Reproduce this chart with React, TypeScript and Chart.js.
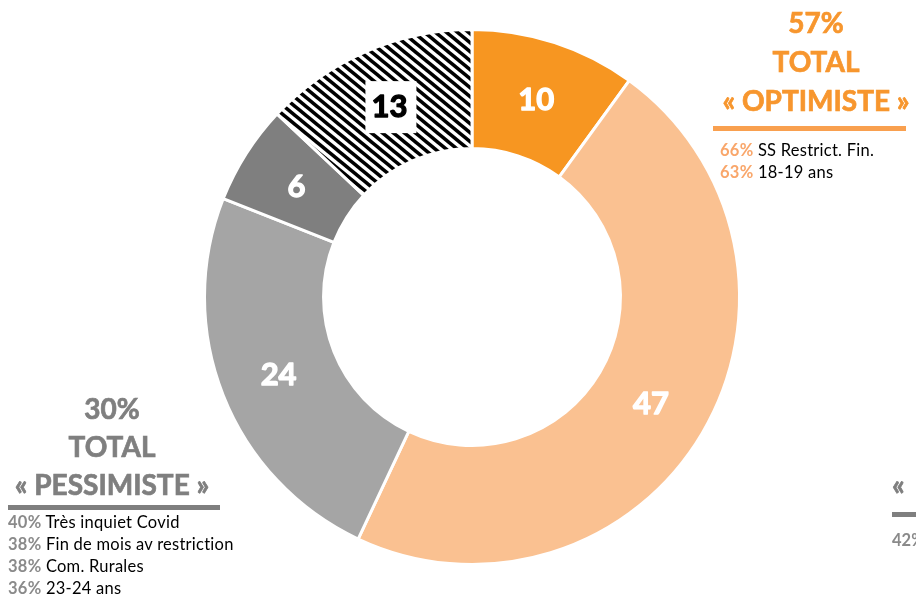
import React, { useEffect, useRef } from 'react';
import { Chart, registerables } from 'chart.js';

Chart.register(...registerables);

// ---- data ----
const categories = ['Très optimiste', 'Plutôt optimiste', 'Plutôt pessimiste', 'Très pessimiste', 'Ne sait pas'];
const values = [10, 47, 24, 6, 13];
const sliceColors = ['#F79621', '#FAC191', '#A5A5A5', '#7F7F7F', 'HATCH'];
const sliceLabelColors = ['#FFFFFF', '#FFFFFF', '#FFFFFF', '#FFFFFF', '#000000'];
const sliceLabelBoxed = [false, false, false, false, true];

const optimistTitle = ['57%', 'TOTAL', '« OPTIMISTE »'];
const optimistPcts = ['66%', '63%'];
const optimistTexts = ['SS Restrict. Fin.', '18-19 ans'];

const pessimistTitle = ['30%', 'TOTAL', '« PESSIMISTE »'];
const pessimistPcts = ['40%', '38%', '38%', '36%'];
const pessimistTexts = ['Très inquiet Covid', 'Fin de mois av restriction', 'Com. Rurales', '23-24 ans'];

const thirdTitle = ['«'];
const thirdPcts = ['42%'];

const FONT = 'Lato, "Open Sans", sans-serif';
const SMALL_FONT = 'Lato, "Open Sans", sans-serif';

function makeHatch(): CanvasPattern | string {
  const w = 11, h = 9;
  const c = document.createElement('canvas');
  c.width = w; c.height = h;
  const g = c.getContext('2d');
  if (!g) return '#000';
  g.fillStyle = '#FFFFFF';
  g.fillRect(0, 0, w, h);
  g.strokeStyle = '#000000';
  g.lineWidth = 3.6;
  for (let k = -2; k <= 2; k++) {
    g.beginPath();
    g.moveTo(k * w - w, -h);
    g.lineTo(k * w + 2 * w, 2 * h);
    g.stroke();
  }
  const p = g.createPattern(c, 'repeat');
  return p || '#000';
}

const labelPlugin = {
  id: 'sliceLabels',
  afterDatasetsDraw(chart: any) {
    const ctx = chart.ctx;
    const meta = chart.getDatasetMeta(0);
    meta.data.forEach((arc: any, i: number) => {
      const pos = arc.tooltipPosition();
      const size = 31;
      ctx.save();
      if (sliceLabelBoxed[i]) {
        ctx.fillStyle = '#FFFFFF';
        ctx.fillRect(pos.x - 24, pos.y - 25, 51, 52);
      }
      ctx.font = `bold ${size}px ${FONT}`;
      ctx.fillStyle = sliceLabelColors[i];
      ctx.strokeStyle = sliceLabelColors[i];
      ctx.lineWidth = 1.3;
      ctx.lineJoin = 'round';
      ctx.textAlign = 'center';
      ctx.textBaseline = 'alphabetic';
      const by = pos.y + size * 0.36;
      ctx.fillText(String(values[i]), pos.x, by);
      ctx.strokeText(String(values[i]), pos.x, by);
      ctx.restore();
    });
  },
};

function Block(props: {
  left: number; top: number; width: number; color: string; barColor: string; pctColor: string;
  title: string[]; pcts: string[]; texts: string[]; barLeft: number; barTop: number; barWidth: number;
  linesLeft: number; linesTop: number; titleLH: number;
}) {
  const p = props;
  return (
    <>
      <div style={{
        position: 'absolute', left: p.left, top: p.top, width: p.width, textAlign: 'center',
        fontFamily: FONT, fontWeight: 700, fontSize: 28, lineHeight: `${p.titleLH}px`, color: p.color,
        whiteSpace: 'nowrap', WebkitTextStroke: `0.7px ${p.color}`,
      }}>
        {p.title.map((t, i) => <div key={i}>{t}</div>)}
      </div>
      <div style={{ position: 'absolute', left: p.barLeft, top: p.barTop, width: p.barWidth, height: 5, background: p.barColor }} />
      <div style={{
        position: 'absolute', left: p.linesLeft, top: p.linesTop, fontFamily: SMALL_FONT, fontSize: 16.5,
        letterSpacing: '0.25px', lineHeight: '22px', color: '#000', whiteSpace: 'nowrap',
      }}>
        {p.pcts.map((pc, i) => (
          <div key={i}><span style={{ color: p.pctColor, fontWeight: 700 }}>{pc}</span> {p.texts[i]}</div>
        ))}
      </div>
    </>
  );
}

export default function App() {
  const ref = useRef<HTMLCanvasElement>(null);

  useEffect(() => {
    if (!ref.current) return;
    const hatch = makeHatch();
    const bg = sliceColors.map((c) => (c === 'HATCH' ? hatch : c));
    const chart = new Chart(ref.current, {
      type: 'doughnut',
      data: {
        labels: categories,
        datasets: [{
          data: values,
          backgroundColor: bg as any,
          borderColor: '#FFFFFF',
          borderWidth: 3,
          radius: 267.5,
          cutout: '55.5%',
        } as any],
      },
      options: {
        responsive: false,
        maintainAspectRatio: false,
        devicePixelRatio: 1,
        animation: false,
        layout: { padding: { left: 28, right: 0, top: 0, bottom: 3 } },
        plugins: { legend: { display: false }, tooltip: { enabled: false } },
      } as any,
      plugins: [labelPlugin],
    });
    return () => chart.destroy();
  }, []);

  return (
    <div style={{ position: 'absolute', left: 0, top: 0, width: 916, height: 597, overflow: 'hidden', background: '#FFFFFF' }}>
      <canvas ref={ref} width={916} height={597} style={{ position: 'absolute', left: 0, top: 0, width: 916, height: 597 }} />
      <Block left={716} top={3} width={200} color="#F7962E" barColor="#F9A04F" pctColor="#F9A66A"
        title={optimistTitle} pcts={optimistPcts} texts={optimistTexts}
        barLeft={713} barTop={126} barWidth={193} linesLeft={720} linesTop={139} titleLH={39} />
      <Block left={12} top={389} width={200} color="#7F7F7F" barColor="#7F7F7F" pctColor="#8A8A8A"
        title={pessimistTitle} pcts={pessimistPcts} texts={pessimistTexts}
        barLeft={8} barTop={505} barWidth={212} linesLeft={8} linesTop={511} titleLH={38} />
      <div style={{ position: 'absolute', left: 892, top: 465, fontFamily: FONT, fontWeight: 700, fontSize: 28, lineHeight: '38px', color: '#7F7F7F', whiteSpace: 'nowrap', WebkitTextStroke: '0.7px #7F7F7F' }}>
        {thirdTitle[0]}
      </div>
      <div style={{ position: 'absolute', left: 892, top: 512, width: 30, height: 5, background: '#7F7F7F' }} />
      <div style={{ position: 'absolute', left: 892, top: 529, fontFamily: SMALL_FONT, fontWeight: 700, fontSize: 16.5, lineHeight: '22px', color: '#8A8A8A', whiteSpace: 'nowrap' }}>
        {thirdPcts[0]}
      </div>
    </div>
  );
}
